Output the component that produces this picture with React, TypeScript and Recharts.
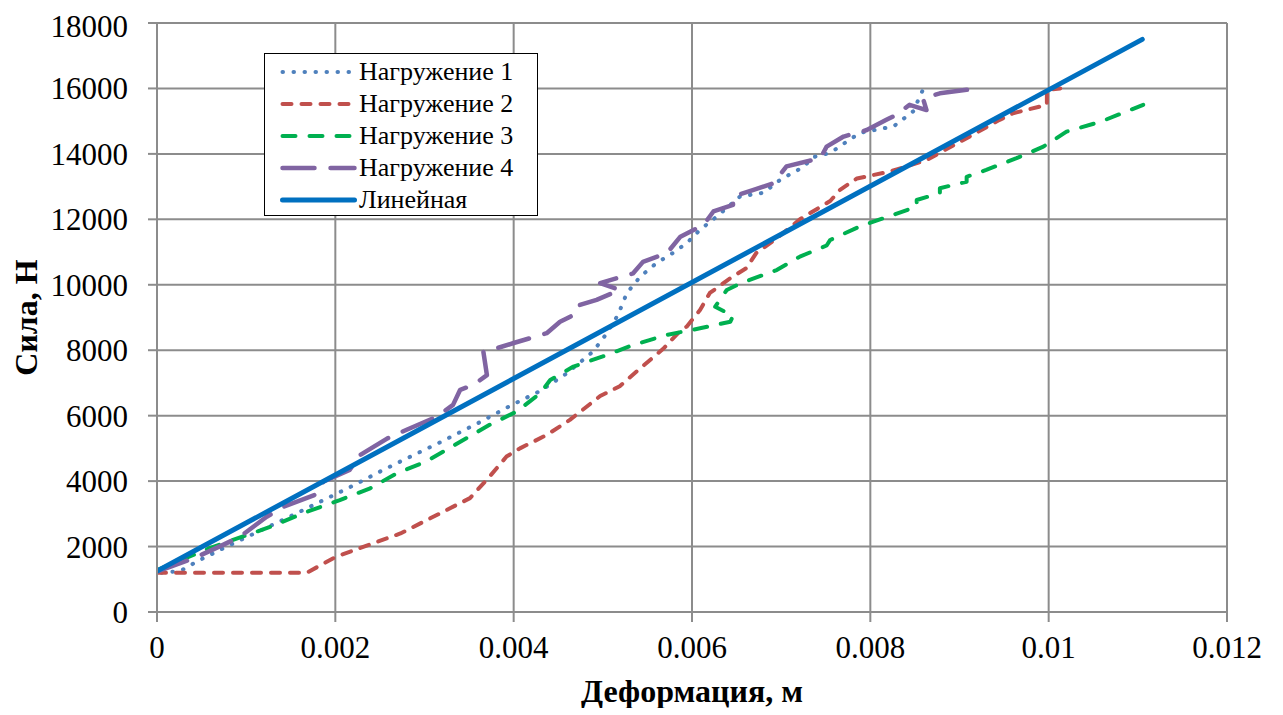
import React from 'react';
import { LineChart, Line, XAxis, YAxis, CartesianGrid, Legend, Label } from 'recharts';

// ---- Data (deformation in m, force in N) ----
const load1Deformation = [0.00005, 0.00026, 0.00048, 0.00082, 0.00116, 0.00149, 0.00183, 0.00216, 0.0025, 0.00273, 0.00317, 0.00362, 0.00396, 0.0043, 0.00459, 0.00489, 0.00504, 0.00517, 0.00527, 0.00542, 0.0056, 0.00579, 0.00594, 0.00609, 0.00628, 0.00654, 0.0068, 0.00699, 0.00725, 0.00736, 0.00755, 0.00788, 0.00826, 0.00848, 0.00859];
const load1Force = [1200, 1250, 1590, 2050, 2490, 2915, 3370, 3810, 4290, 4600, 5180, 5800, 6300, 6760, 7280, 7960, 8500, 9080, 9750, 10250, 10660, 10980, 11270, 11680, 12090, 12700, 12810, 13210, 13600, 13900, 14030, 14640, 14840, 15300, 15960];

const load2Deformation = [0, 0.00168, 0.00201, 0.00273, 0.00351, 0.00373, 0.00392, 0.00407, 0.00437, 0.00463, 0.00497, 0.00519, 0.0054, 0.00568, 0.00587, 0.00594, 0.00609, 0.0062, 0.00643, 0.00661, 0.00672, 0.00695, 0.00721, 0.00755, 0.00766, 0.00785, 0.00822, 0.00863, 0.00908, 0.00945, 0.0096, 0.00998, 0.00998, 0.01013];
const load2Force = [1200, 1200, 1690, 2400, 3480, 4140, 4750, 5000, 5410, 5870, 6600, 6900, 7400, 8050, 8600, 8720, 9230, 9750, 10200, 10510, 10970, 11420, 12000, 12560, 12900, 13250, 13460, 13810, 14480, 15040, 15240, 15500, 15960, 16000];

const load3Deformation = [0, 0.00059, 0.0013, 0.00164, 0.00205, 0.00239, 0.00269, 0.00302, 0.00373, 0.00403, 0.0043, 0.00441, 0.00467, 0.005, 0.00534, 0.00572, 0.00609, 0.00643, 0.00646, 0.00626, 0.00639, 0.00654, 0.00695, 0.00721, 0.00751, 0.00755, 0.00788, 0.00826, 0.00852, 0.00852, 0.00878, 0.00878, 0.00908, 0.00908, 0.0093, 0.00964, 0.00994, 0.0102, 0.01058, 0.01106];
const load3Force = [1280, 1950, 2630, 3020, 3420, 3780, 4240, 4600, 5720, 6120, 6690, 7090, 7500, 7810, 8160, 8470, 8670, 8870, 9050, 9330, 9840, 10040, 10450, 10860, 11200, 11370, 11780, 12140, 12390, 12590, 12800, 12950, 13150, 13300, 13510, 13870, 14220, 14680, 14980, 15500];

const load4Deformation = [0, 0.00041, 0.00074, 0.00093, 0.00123, 0.00142, 0.00177, 0.00187, 0.00216, 0.00228, 0.00258, 0.0028, 0.00314, 0.00332, 0.0034, 0.00355, 0.0037, 0.00366, 0.00381, 0.004, 0.00437, 0.00452, 0.00471, 0.00474, 0.00493, 0.00519, 0.00497, 0.00534, 0.00545, 0.00572, 0.00587, 0.00613, 0.00624, 0.00646, 0.00646, 0.00669, 0.00691, 0.00706, 0.00744, 0.00751, 0.0077, 0.00796, 0.00818, 0.00829, 0.00844, 0.00863, 0.00859, 0.00878, 0.00908, 0.00919];
const load4Force = [1230, 1640, 2050, 2300, 2910, 3220, 3580, 3990, 4340, 4800, 5300, 5570, 5970, 6330, 6790, 6940, 7240, 7960, 8060, 8220, 8520, 8870, 9130, 9380, 9540, 9840, 10050, 10350, 10700, 10970, 11470, 11830, 12240, 12440, 12700, 12900, 13100, 13620, 13870, 14220, 14530, 14730, 15040, 15190, 15500, 15340, 15700, 15850, 15960, 15960];

const linearDeformation = [0, 0.01105];
const linearForce = [1250, 17500];

const seriesNames = ['Нагружение 1', 'Нагружение 2', 'Нагружение 3', 'Нагружение 4', 'Линейная'];
const xTicks = [0, 0.002, 0.004, 0.006, 0.008, 0.01, 0.012];
const yTicks = [0, 2000, 4000, 6000, 8000, 10000, 12000, 14000, 16000, 18000];
const xTitle = 'Деформация, м';
const yTitle = 'Сила, Н';

const toPoints = (xs: number[], ys: number[]) => xs.map((x, i) => ({ x, y: ys[i] }));

const seriesData = [
  toPoints(load1Deformation, load1Force),
  toPoints(load2Deformation, load2Force),
  toPoints(load3Deformation, load3Force),
  toPoints(load4Deformation, load4Force),
  toPoints(linearDeformation, linearForce),
];

const styles = [
  { color: '#4F81BD', width: 4, dash: '0.5 10.5' },
  { color: '#C0504D', width: 4, dash: '9 10' },
  { color: '#00B050', width: 4, dash: '13 14' },
  { color: '#8064A2', width: 4.5, dash: '32 16' },
  { color: '#0070C0', width: 5, dash: undefined as string | undefined },
];

const FONT = '"Liberation Serif", "Times New Roman", serif';
const GRID = '#8C8C8C';

const renderLegend = () => (
  <div
    style={{
      width: 274,
      height: 163,
      boxSizing: 'border-box',
      border: '1.5px solid #000',
      background: '#fff',
      paddingTop: 2,
      fontFamily: FONT,
    }}
  >
    {seriesNames.map((name, i) => (
      <div key={name} style={{ height: 32, display: 'flex', alignItems: 'center' }}>
        <svg width={94} height={32} style={{ flex: 'none' }}>
          <line
            x1={17.5}
            x2={89.5}
            y1={16}
            y2={16}
            stroke={styles[i].color}
            strokeWidth={styles[i].width}
            strokeDasharray={styles[i].dash}
            strokeLinecap="round"
          />
        </svg>
        <span style={{ fontFamily: FONT, fontSize: 26, lineHeight: '32px', color: '#000', whiteSpace: 'nowrap' }}>
          {name}
        </span>
      </div>
    ))}
  </div>
);

export default function App() {
  return (
    <LineChart
      width={1267}
      height={700}
      margin={{ top: 15, right: 48, left: 0, bottom: 0 }}
      style={{ fontFamily: FONT }}
    >
      <CartesianGrid stroke={GRID} strokeWidth={2} />
      <XAxis
        type="number"
        dataKey="x"
        domain={[0, 0.012]}
        ticks={xTicks}
        allowDataOverflow
        height={96}
        tickSize={10}
        tickMargin={14}
        tickFormatter={(v: number) => String(v)}
        tick={{ fontSize: 31, fill: '#000', fontFamily: FONT }}
        axisLine={{ stroke: GRID, strokeWidth: 2 }}
        tickLine={{ stroke: GRID, strokeWidth: 2 }}
      >
        <Label
          content={() => (
            <text x={684} y={694} textAnchor="middle" fontFamily={FONT} fontWeight="bold" fontSize={32} fill="#000">
              {xTitle}
            </text>
          )}
        />
      </XAxis>
      <YAxis
        type="number"
        domain={[0, 18000]}
        ticks={yTicks}
        allowDataOverflow
        width={149}
        tickSize={9}
        tickMargin={20}
        tick={{ fontSize: 31, fill: '#000', fontFamily: FONT }}
        axisLine={{ stroke: GRID, strokeWidth: 2 }}
        tickLine={{ stroke: GRID, strokeWidth: 2 }}
      >
        <Label
          content={() => (
            <text
              x={29}
              y={309.5}
              transform="rotate(-90 29 309.5)"
              textAnchor="middle"
              fontFamily={FONT}
              fontWeight="bold"
              fontSize={32}
              fill="#000"
            >
              {yTitle}
            </text>
          )}
        />
      </YAxis>
      <Legend
        layout="vertical"
        align="center"
        verticalAlign="middle"
        content={renderLegend}
        wrapperStyle={{ left: 256, top: 45, width: 274, height: 163 }}
      />
      {seriesData.map((data, i) => (
        <Line
          key={seriesNames[i]}
          name={seriesNames[i]}
          data={data}
          dataKey="y"
          type="linear"
          stroke={styles[i].color}
          strokeWidth={styles[i].width}
          strokeDasharray={styles[i].dash}
          strokeLinecap="round"
          strokeLinejoin="round"
          dot={false}
          activeDot={false}
          isAnimationActive={false}
        />
      ))}
    </LineChart>
  );
}
